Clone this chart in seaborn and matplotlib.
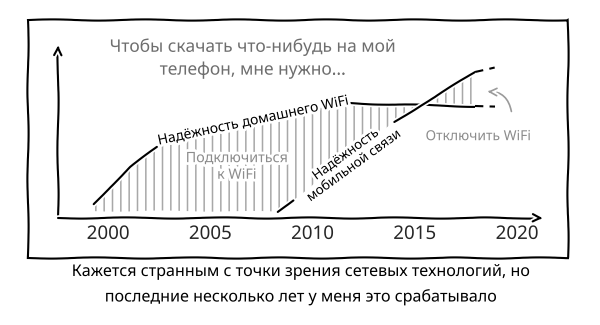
import numpy as np
import matplotlib
matplotlib.use("Agg")
import matplotlib.pyplot as plt
import seaborn as sns
from matplotlib.patches import Rectangle

# ---- data ----
years = [1999.3, 2000.1, 2001.1, 2002.4, 2004.0, 2006.0, 2008.3, 2009.05,
         2011.8, 2014.0, 2015.3, 2016.0, 2017.95, 2018.9]
home_wifi = [8, 18, 29.5, 41, 46, 52, 58.5, 60.5, 66.5, 65.5, 65.2, 65.0, 64.5, 64.5]
mobile = [np.nan] * 6 + [3.5, 10.4, 35.8, 55.5, 65.2, 70.0, 84.4, 87.3]
tick_years = [2000, 2005, 2010, 2015, 2020]

title_text = "Чтобы скачать что-нибудь на мой\nтелефон, мне нужно..."
home_label = "Надёжность домашнего WiFi"
mobile_label = "Надёжность\nмобильной связи"
connect_label = "Подключиться\nк WiFi"
disconnect_label = "Отключить WiFi"
caption1 = "Кажется странным с точки зрения сетевых технологий, но"
caption2 = "последние несколько лет у меня это срабатывало"

sns.set_style("white")
plt.xkcd(scale=0.6, length=100, randomness=2)
plt.rcParams["font.family"] = ["Noto Sans", "DejaVu Sans"]
plt.rcParams["hatch.linewidth"] = 1.1

yr = np.array(years)
hw = np.array(home_wifi, dtype=float)
mb = np.array(mobile, dtype=float)
floor = np.where(np.isnan(mb), 4.0, mb)

fig = plt.figure(figsize=(6, 3.25), dpi=100)
ax = fig.add_axes([58 / 600, (325 - 218) / 325, (543 - 58) / 600, (218 - 45) / 325])
ax.set_xlim(1997.555, 2021.27)
ax.set_ylim(0, 100)

# hatching
hcol = "#a8a8a8"
ax.fill_between(yr, floor, hw, where=(yr <= 2015.3), interpolate=True,
                facecolor="none", edgecolor=hcol, hatch="||", linewidth=0, zorder=1)
ax.fill_between(yr, hw, mb, where=(yr >= 2015.3) & (yr <= 2017.95), interpolate=True,
                facecolor="none", edgecolor=hcol, hatch="||", linewidth=0, zorder=1)

# lines
def seg(x, y, i0, i1, dashed=False):
    sns.lineplot(x=x[i0:i1 + 1], y=y[i0:i1 + 1], ax=ax, color="black", lw=1.5,
                 linestyle=(0, (4, 3)) if dashed else "-", sort=False,
                 estimator=None, zorder=3)

seg(yr, hw, 0, 3)
seg(yr, hw, 8, 12)
seg(yr, hw, 12, 13, dashed=True)
seg(yr, mb, 6, 7)
seg(yr, mb, 9, 12)
seg(yr, mb, 12, 13, dashed=True)

# axes
for s in ax.spines.values():
    s.set_visible(False)
ax.annotate("", xy=(0, 1), xytext=(0, 0), xycoords="axes fraction",
            arrowprops=dict(arrowstyle="->", lw=1.5, color="black", shrinkA=0, shrinkB=0))
ax.annotate("", xy=(1, 0), xytext=(0, 0), xycoords="axes fraction",
            arrowprops=dict(arrowstyle="->", lw=1.5, color="black", shrinkA=0, shrinkB=0))
ax.set_xticks(tick_years)
ax.set_xticklabels([str(t) for t in tick_years])
ax.set_yticks([])
ax.tick_params(axis="x", length=0, pad=5, labelsize=13.5)
ax.set_xlabel("")
ax.set_ylabel("")

# labels
ax.text(2007.09, 56.0, home_label, rotation=12, ha="center", va="center",
        fontsize=10, color="black", rotation_mode="anchor")
ax.text(2011.83, 33.5, mobile_label, rotation=36, ha="center", va="center",
        multialignment="center", fontsize=9.5, color="black", rotation_mode="anchor",
        linespacing=1.1)
ax.text(2006.3, 29.5, connect_label, ha="center", va="center", fontsize=10.3,
        color="#8c8c8c", multialignment="center", linespacing=1.15)
ax.text(2018.1, 47.0, disconnect_label, ha="center", va="center", fontsize=10,
        color="#8c8c8c")
ax.annotate("", xy=(2018.4, 73.0), xytext=(2019.75, 60.0),
            arrowprops=dict(arrowstyle="->", lw=1.2, color="#9a9a9a",
                            connectionstyle="arc3,rad=0.45"))

fig.text(253 / 600, 1 - 58 / 325, title_text, ha="center", va="center",
         fontsize=12.5, color="#6e6e6e", linespacing=1.3)

# panel frame
fig.patches.append(Rectangle((28 / 600, (325 - 258) / 325), 540 / 600, 238 / 325,
                             transform=fig.transFigure, fill=False,
                             edgecolor="black", lw=1.5))

fig.text(0.5, 1 - 272 / 325, caption1, ha="center", va="center", fontsize=11.6,
         color="black", fontweight="medium")
fig.text(0.5, 1 - 297 / 325, caption2, ha="center", va="center", fontsize=11.6,
         color="black", fontweight="medium")

fig.savefig("out.png", dpi=100)
